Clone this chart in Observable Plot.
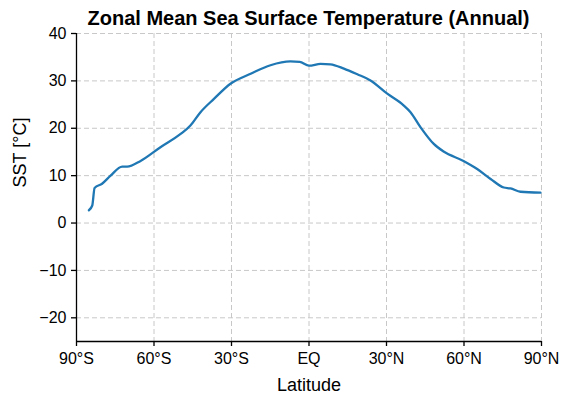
<!DOCTYPE html>
<html><head><meta charset="utf-8">
<script src="https://cdn.jsdelivr.net/npm/d3@7"></script>
<script src="https://cdn.jsdelivr.net/npm/@observablehq/plot@0.6"></script>
<style>
body{margin:0;background:#fff;font-family:"Liberation Sans",Arial,sans-serif;}
#wrap{position:relative;width:571px;height:403px;}
#title{position:absolute;left:0;top:3px;width:571px;box-sizing:border-box;padding-left:46px;text-align:center;font-weight:bold;font-size:20px;line-height:30px;color:#000;white-space:nowrap;}
</style></head><body>
<div id="wrap">
<div id="chart"></div>
<div id="title">Zonal Mean Sea Surface Temperature (Annual)</div>
</div>
<script>
const lat = [-85.2,-83.9,-83.0,-80.1,-76.8,-72.3,-70.4,-65.2,-57.5,-49.7,-45.9,-42.0,-36.8,-30.4,-22.6,-14.9,-7.2,-3.6,0,4.5,8.3,13.5,18.7,23.8,30.3,36.7,39.3,43.2,48.3,52.1,59.8,65.1,70.3,75.4,78.0,81.9,89.6];
const sst = [2.7,3.7,7.4,8.3,10.0,11.9,11.9,13.1,16.0,18.8,20.6,23.4,26.2,29.4,31.5,33.3,34.1,34.0,33.2,33.6,33.5,32.6,31.4,30.1,27.3,24.8,23.4,20.2,16.7,15.1,13.1,11.4,9.3,7.5,7.3,6.6,6.4];
const xTicks = [-90,-60,-30,0,30,60,90];
const yTicks = [-20,-10,0,10,20,30,40];
const data = lat.map((d,i)=>({lat:d,sst:sst[i]}));
const fmtLat = d => d===0 ? "EQ" : Math.abs(d)+"°"+(d<0?"S":"N");
const chart = Plot.plot({
  width:571, height:403,
  marginTop:33, marginBottom:62, marginLeft:76, marginRight:30,
  style:{fontFamily:"'Liberation Sans',Arial,sans-serif", fontSize:"16px", color:"#000", background:"#fff", overflow:"visible"},
  x:{domain:[-90,90]},
  y:{domain:[-25,40]},
  marks:[
    Plot.gridX(xTicks,{stroke:"#c8c8c8",strokeOpacity:1,strokeDasharray:"5,3",strokeWidth:1}),
    Plot.gridY(yTicks,{stroke:"#c8c8c8",strokeOpacity:1,strokeDasharray:"5,3",strokeWidth:1}),
    Plot.ruleY([-25],{stroke:"#000",strokeWidth:1.3}),
    Plot.ruleX([-90],{stroke:"#000",strokeWidth:1.3}),
    Plot.axisX(xTicks,{tickFormat:fmtLat,tickSize:5,tickPadding:6,stroke:"#000",strokeWidth:1.3,fontSize:16,label:null}),
    Plot.axisY(yTicks,{tickSize:5,tickPadding:5,stroke:"#000",strokeWidth:1.3,fontSize:16,label:null}),
    Plot.text(["Latitude"],{frameAnchor:"bottom",dy:49,fontSize:18,fill:"#000"}),
    Plot.text(["SST [°C]"],{frameAnchor:"left",dx:-56,rotate:-90,fontSize:18,fill:"#000"}),
    Plot.line(data,{x:"lat",y:"sst",stroke:"#1f77b4",strokeWidth:2.3,curve:"monotone-x"})
  ]
});
document.getElementById("chart").appendChild(chart);
</script>
</body></html>
